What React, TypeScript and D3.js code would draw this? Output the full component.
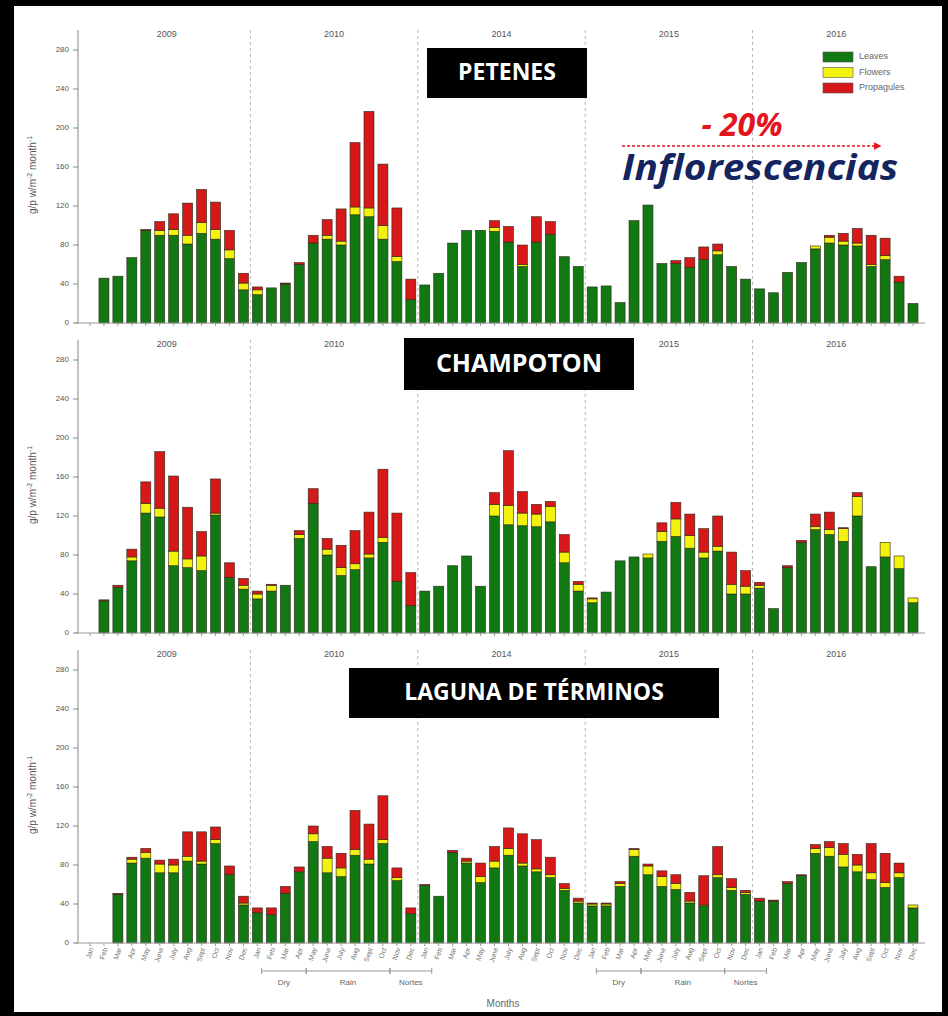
import React from "react";
import * as d3 from "d3";

// Month and year labels
const monthNames = ["Jan", "Feb", "Mar", "Apr", "May", "June", "July", "Aug", "Sept", "Oct", "Nov", "Dec"];
const years = ["2009", "2010", "2014", "2015", "2016"];
const yTicks = [0, 40, 80, 120, 160, 200, 240, 280];
const seriesKeys = ["leaves", "flowers", "propagules"];
const seriesNames = ["Leaves", "Flowers", "Propagules"];

// Litterfall per month (60 months: 2009, 2010, 2014, 2015, 2016)
const petenesLeaves = [0, 46, 48, 67, 95, 90, 90, 81, 92, 86, 66, 34, 29, 36, 40, 60, 82, 86, 80, 111, 109, 86, 63, 24, 39, 51, 82, 95, 95, 94, 83, 58, 83, 91, 68, 58, 37, 38, 21, 105, 121, 61, 61, 57, 65, 70, 58, 45, 35, 31, 52, 62, 76, 82, 80, 79, 58, 65, 42, 20];
const petenesFlowers = [0, 0, 0, 0, 0, 5, 6, 9, 11, 10, 9, 7, 5, 0, 0, 0, 0, 4, 4, 8, 9, 14, 5, 0, 0, 0, 0, 0, 0, 4, 0, 2, 0, 0, 0, 0, 0, 0, 0, 0, 0, 0, 0, 0, 0, 4, 0, 0, 0, 0, 0, 0, 3, 6, 4, 3, 2, 4, 0, 0];
const petenesPropagules = [0, 0, 0, 0, 1, 9, 16, 33, 34, 28, 20, 10, 3, 0, 1, 2, 8, 16, 33, 66, 99, 63, 50, 21, 0, 0, 0, 0, 0, 7, 16, 20, 26, 13, 0, 0, 0, 0, 0, 0, 0, 0, 3, 10, 13, 7, 0, 0, 0, 0, 0, 0, 0, 2, 8, 15, 30, 18, 6, 0];

const champotonLeaves = [0, 33, 47, 74, 123, 119, 69, 67, 64, 121, 57, 45, 35, 43, 49, 97, 133, 80, 59, 65, 77, 93, 53, 28, 43, 48, 69, 79, 48, 120, 111, 110, 109, 114, 72, 43, 31, 42, 74, 78, 77, 94, 99, 87, 77, 84, 40, 40, 46, 25, 67, 93, 106, 101, 94, 120, 68, 78, 66, 31];
const champotonFlowers = [0, 0, 0, 4, 10, 9, 15, 9, 15, 2, 0, 4, 5, 6, 0, 4, 0, 6, 8, 6, 4, 5, 0, 0, 0, 0, 0, 0, 0, 12, 20, 13, 13, 16, 11, 7, 4, 0, 0, 0, 4, 10, 18, 13, 6, 5, 10, 8, 3, 0, 0, 0, 3, 5, 13, 20, 0, 15, 13, 5];
const champotonPropagules = [0, 1, 2, 8, 22, 58, 77, 53, 25, 35, 15, 7, 3, 1, 0, 4, 15, 11, 23, 34, 43, 70, 70, 34, 0, 0, 0, 0, 0, 12, 56, 22, 10, 5, 18, 3, 1, 0, 0, 0, 0, 9, 17, 22, 24, 31, 33, 16, 3, 0, 2, 2, 13, 18, 1, 4, 0, 0, 0, 0];

const lagunaLeaves = [0, 0, 50, 82, 87, 72, 72, 84, 81, 102, 70, 39, 31, 29, 51, 73, 104, 72, 68, 90, 81, 102, 64, 30, 59, 48, 93, 82, 62, 77, 90, 79, 73, 67, 54, 41, 38, 38, 58, 89, 70, 58, 55, 41, 38, 67, 54, 50, 43, 43, 61, 69, 92, 89, 78, 73, 65, 57, 67, 36];
const lagunaFlowers = [0, 0, 0, 4, 6, 9, 8, 5, 3, 4, 0, 2, 0, 0, 0, 0, 8, 15, 9, 6, 5, 4, 3, 0, 0, 0, 0, 2, 6, 7, 7, 3, 3, 3, 2, 2, 2, 2, 3, 7, 9, 10, 6, 2, 1, 3, 3, 2, 0, 0, 0, 0, 5, 9, 13, 7, 7, 5, 5, 3];
const lagunaPropagules = [0, 0, 1, 2, 4, 4, 6, 25, 30, 13, 9, 7, 5, 7, 7, 5, 8, 12, 15, 40, 36, 45, 10, 6, 1, 0, 2, 3, 14, 15, 21, 30, 30, 18, 5, 3, 1, 1, 2, 1, 2, 6, 9, 9, 30, 29, 9, 2, 3, 1, 2, 1, 4, 6, 11, 11, 30, 30, 10, 0];

// Seasons, in month-index units (start, end) for 2010 and 2015
const seasonNames = ["Dry", "Rain", "Nortes"];
const seasonStarts = [12.3, 15.5, 21.5];
const seasonEnds = [15.5, 21.5, 24.5];
const seasonYearShift = [0, 24];

const colors: Record<string, string> = {
  leaves: "#127812",
  flowers: "#f2f20c",
  propagules: "#d61818",
};

const W = 948;
const H = 1016;
const nMonths = 60;
const x = d3.scaleLinear().domain([0, nMonths - 1]).range([90, 913]);
const barW = 10;
const axisFont = "'Liberation Sans', Arial, sans-serif";

type Site = {
  name: string;
  leaves: number[];
  flowers: number[];
  propagules: number[];
  zeroY: number;
  box: { x: number; y: number; w: number; h: number; fs: number };
  monthLabels: boolean;
  yearLabels: number[];
};

const sites: Site[] = [
  { name: "PETENES", leaves: petenesLeaves, flowers: petenesFlowers, propagules: petenesPropagules, zeroY: 323, box: { x: 427, y: 48, w: 160, h: 50, fs: 23 }, monthLabels: false, yearLabels: [0, 1, 2, 3, 4] },
  { name: "CHAMPOTON", leaves: champotonLeaves, flowers: champotonFlowers, propagules: champotonPropagules, zeroY: 633, box: { x: 404, y: 338, w: 230, h: 52, fs: 25 }, monthLabels: false, yearLabels: [0, 1, 3, 4] },
  { name: "LAGUNA DE TÉRMINOS", leaves: lagunaLeaves, flowers: lagunaFlowers, propagules: lagunaPropagules, zeroY: 943, box: { x: 349, y: 668, w: 370, h: 50, fs: 23 }, monthLabels: true, yearLabels: [0, 1, 2, 3, 4] },
];

function Panel({ site }: { site: Site }) {
  const z = site.zeroY;
  const y = d3.scaleLinear().domain([0, 280]).range([z, z - 273]);
  const axisTop = z - 293;
  const rows = d3.range(nMonths).map((i) => ({
    i,
    leaves: site.leaves[i],
    flowers: site.flowers[i],
    propagules: site.propagules[i],
  }));
  const stacked = d3.stack<any>().keys(seriesKeys)(rows);
  const bx = site.box;
  return (
    <g>
      {/* year dividers */}
      {[1, 2, 3, 4].map((k) => (
        <line key={k} x1={x(k * 12 - 0.5)} x2={x(k * 12 - 0.5)} y1={axisTop} y2={z} stroke="#b8b8b8" strokeWidth={1} strokeDasharray="3,3" />
      ))}
      {/* year labels */}
      {site.yearLabels.map((k) => (
        <text key={k} x={x(k * 12 + 5.5)} y={z - 288} fontSize={9} fill="#555" textAnchor="middle" dominantBaseline="middle" fontFamily={axisFont}>
          {years[k]}
        </text>
      ))}
      {/* bars */}
      {stacked.map((layer) => (
        <g key={layer.key} fill={colors[layer.key]}>
          {layer.map((d, i) =>
            d[1] - d[0] > 0 ? (
              <rect key={i} x={x(i) - barW / 2} y={y(d[1])} width={barW} height={y(d[0]) - y(d[1])} stroke="#2a2a1a" strokeWidth={0.6} />
            ) : null
          )}
        </g>
      ))}
      {/* y axis */}
      <line x1={78} x2={78} y1={axisTop} y2={z} stroke="#888" strokeWidth={1} />
      {yTicks.map((t) => (
        <g key={t}>
          <line x1={73} x2={78} y1={y(t)} y2={y(t)} stroke="#888" />
          <text x={69} y={y(t)} fontSize={8} fill="#555" textAnchor="end" dominantBaseline="middle" fontFamily={axisFont}>
            {t}
          </text>
        </g>
      ))}
      <text transform={`translate(36,${z - 148}) rotate(-90)`} fontSize={10} fill="#555" textAnchor="middle" fontFamily={axisFont}>
        g/p w/m<tspan fontSize={7} dy={-4}>-2</tspan>
        <tspan dy={4}> month</tspan>
        <tspan fontSize={7} dy={-4}>-1</tspan>
      </text>
      {/* x axis */}
      <line x1={75} x2={925} y1={z} y2={z} stroke="#999" strokeWidth={1} />
      {d3.range(nMonths).map((i) => (
        <line key={i} x1={x(i)} x2={x(i)} y1={z} y2={z + 3} stroke="#999" />
      ))}
      {site.monthLabels &&
        d3.range(nMonths).map((i) => (
          <text key={i} transform={`translate(${x(i) + 2},${z + 5}) rotate(-72)`} fontSize={7} fill="#777" textAnchor="end" dominantBaseline="middle" fontFamily={axisFont}>
            {monthNames[i % 12]}
          </text>
        ))}
      {/* site label */}
      <rect x={bx.x} y={bx.y} width={bx.w} height={bx.h} fill="#000" />
      <text x={bx.x + bx.w / 2} y={bx.y + bx.h / 2 + 1} fill="#fff" fontSize={bx.fs} fontWeight={700} textAnchor="middle" dominantBaseline="middle" fontFamily="'Open Sans', 'Noto Sans', sans-serif">
        {site.name}
      </text>
    </g>
  );
}

function Seasons({ z }: { z: number }) {
  const by = z + 28;
  return (
    <g>
      {seasonYearShift.map((shift) =>
        seasonNames.map((s, k) => {
          const a = x(seasonStarts[k] + shift);
          const b = x(seasonEnds[k] + shift);
          return (
            <g key={`${shift}-${s}`}>
              <line x1={a} x2={b} y1={by} y2={by} stroke="#999" />
              <line x1={a} x2={a} y1={by - 3} y2={by + 3} stroke="#999" />
              <line x1={b} x2={b} y1={by - 3} y2={by + 3} stroke="#999" />
              <text x={(a + b) / 2} y={by + 14} fontSize={8} fill="#666" textAnchor="middle" fontFamily={axisFont}>
                {s}
              </text>
            </g>
          );
        })
      )}
      <text x={503} y={z + 64} fontSize={10} fill="#666" textAnchor="middle" fontFamily={axisFont}>
        Months
      </text>
    </g>
  );
}

function Legend() {
  return (
    <g>
      {seriesKeys.map((k, i) => (
        <g key={k} transform={`translate(823,${52 + i * 15.5})`}>
          <rect width={30} height={10} fill={colors[k]} stroke="#555" strokeWidth={0.6} />
          <text x={36} y={5} fontSize={9} fill="#666" dominantBaseline="middle" fontFamily={axisFont}>
            {seriesNames[i]}
          </text>
        </g>
      ))}
    </g>
  );
}

export default function App() {
  return (
    <svg width={W} height={H} style={{ position: "absolute", left: 0, top: 0, display: "block" }}>
      <rect width={W} height={H} fill="#000" />
      <rect x={14} y={6} width={928} height={1006} fill="#fff" />
      {sites.map((s) => (
        <Panel key={s.name} site={s} />
      ))}
      <Seasons z={sites[2].zeroY} />
      <Legend />
      {/* annotation */}
      <defs>
        <marker id="arrowHead" viewBox="0 0 10 10" refX={8} refY={5} markerWidth={6} markerHeight={6} orient="auto">
          <path d="M0,0 L10,5 L0,10 z" fill="#e3141c" />
        </marker>
      </defs>
      <text x={742} y={136} fill="#e3141c" fontSize={32} fontWeight={700} fontStyle="italic" textAnchor="middle" fontFamily="'Open Sans', 'Noto Sans', sans-serif">
        - 20%
      </text>
      <line x1={622} x2={880} y1={146} y2={146} stroke="#e3141c" strokeWidth={1.3} strokeDasharray="3,2" markerEnd="url(#arrowHead)" />
      <text x={622} y={180} fill="#14245e" fontSize={36} fontWeight={700} fontStyle="italic" textLength={276} lengthAdjust="spacingAndGlyphs" fontFamily="'Open Sans', 'Noto Sans', sans-serif">
        Inflorescencias
      </text>
    </svg>
  );
}
